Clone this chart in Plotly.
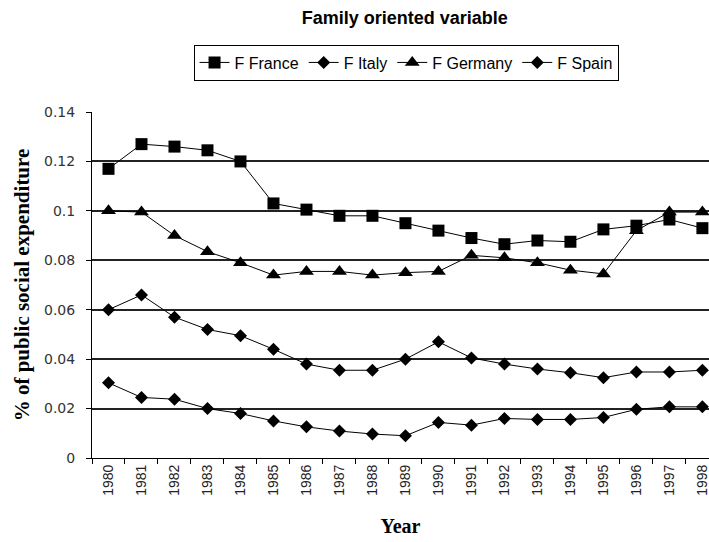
import plotly.graph_objects as go

# Years on the category axis
years = [str(y) for y in range(1980, 1999)]

# Family-oriented spending as a share of public social expenditure
france = [0.117, 0.127, 0.126, 0.1245, 0.120, 0.103, 0.1005, 0.098, 0.098, 0.095,
          0.092, 0.089, 0.0865, 0.088, 0.0875, 0.0925, 0.094, 0.0965, 0.093]
italy = [0.060, 0.066, 0.057, 0.052, 0.0495, 0.044, 0.038, 0.0355, 0.0355, 0.040,
         0.047, 0.0405, 0.038, 0.036, 0.0345, 0.0325, 0.0348, 0.0348, 0.0355]
germany = [0.100, 0.0995, 0.090, 0.0835, 0.079, 0.074, 0.0755, 0.0755, 0.074, 0.075,
           0.0755, 0.082, 0.081, 0.079, 0.076, 0.0745, 0.092, 0.0995, 0.0995]
spain = [0.0304, 0.0245, 0.0238, 0.020, 0.018, 0.015, 0.0126, 0.0109, 0.0097, 0.009,
         0.0144, 0.0133, 0.016, 0.0156, 0.0156, 0.0164, 0.0197, 0.0207, 0.0207]

series = [
    ("F France", france, "square", 12),
    ("F Italy", italy, "diamond", 10),
    ("F Germany", germany, "triangle-up", 13),
    ("F Spain", spain, "diamond", 10),
]

fig = go.Figure()
for name, vals, sym, size in series:
    fig.add_trace(go.Scatter(
        x=years, y=vals, name=name, mode="lines+markers",
        line=dict(color="black", width=1),
        marker=dict(symbol=sym, size=size, color="black"),
    ))

fig.update_layout(
    width=709, height=542,
    margin=dict(l=92, r=0, t=112, b=84),
    paper_bgcolor="white", plot_bgcolor="white",
    title=dict(
        text="<b>Family oriented variable</b>",
        x=0.571, xanchor="center", y=0.967, yanchor="middle",
        font=dict(family="Liberation Sans Narrow, Arial Narrow, Liberation Sans", size=18, color="black"),
    ),
    legend=dict(
        orientation="h", x=0.509, xanchor="center", y=1.143, yanchor="middle",
        bordercolor="black", borderwidth=1, bgcolor="white",
        font=dict(family="Liberation Sans", size=16, color="black"),
        itemwidth=30, tracegroupgap=0,
    ),
    showlegend=True,
)

fig.update_xaxes(
    type="category", range=[-0.5, 18.2],
    showline=True, linecolor="black", linewidth=1,
    ticks="outside", tickson="boundaries", ticklen=5, tickcolor="black",
    tickangle=-90, showgrid=False,
    tickfont=dict(family="Liberation Sans", size=14, color="#222"),
    title=dict(text="<b>Year</b>", font=dict(family="Liberation Serif, Times New Roman", size=20, color="black"),
               standoff=24),
)

fig.update_yaxes(
    range=[0, 0.14], dtick=0.02, tick0=0,
    showline=True, linecolor="black", linewidth=1,
    ticks="outside", ticklen=5, tickcolor="black", ticklabelstandoff=8,
    showgrid=True, gridcolor="#222", gridwidth=1.5,
    zeroline=False,
    tickfont=dict(family="DejaVu Sans", size=14, color="#333"),
    title=dict(text="<b>% of public social expenditure</b>",
               font=dict(family="Liberation Serif, Times New Roman", size=21, color="black"),
               standoff=8),
)

fig.write_html("out.html")
